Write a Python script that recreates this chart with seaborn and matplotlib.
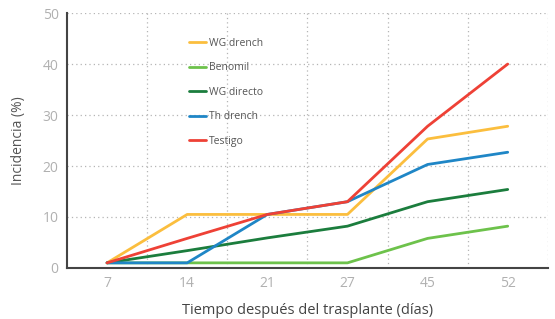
import matplotlib
matplotlib.use("Agg")
import matplotlib.pyplot as plt
import seaborn as sns
import pandas as pd
from matplotlib.ticker import FixedLocator

dias = ["7", "14", "21", "27", "45", "52"]
wg_drench = [1, 10.5, 10.5, 10.5, 25.3, 27.8]
benomil = [1, 1, 1, 1, 5.8, 8.2]
wg_directo = [1, 3.4, 5.9, 8.2, 13, 15.4]
th_drench = [1, 1, 10.5, 13, 20.3, 22.7]
testigo = [1, 5.8, 10.5, 13, 27.8, 40]

series = {"WG drench": wg_drench, "Benomil": benomil, "WG directo": wg_directo,
          "Th drench": th_drench, "Testigo": testigo}
colors = ["#FBBE3E", "#6DC24B", "#1B7D3D", "#1F86C6", "#EE4136"]

rows = []
for name, vals in series.items():
    for d, v in zip(dias, vals):
        rows.append({"dia": d, "serie": name, "valor": v})
df = pd.DataFrame(rows)

sns.set_style("white")
plt.rcParams['font.family'] = ['Open Sans', 'DejaVu Sans']

fig = plt.figure(figsize=(5.55, 3.19), dpi=100)
ax = fig.add_axes([0.1207, 0.160, 0.8663, 0.799])

sns.lineplot(data=df, x="dia", y="valor", hue="serie", palette=colors,
             linewidth=2.0, ax=ax, sort=False)

ax.set_xlim(-0.5, 5.5)
ax.set_ylim(0, 50)
ax.set_yticks([0, 10, 20, 30, 40, 50])
ax.xaxis.set_minor_locator(FixedLocator([0.5, 1.5, 2.5, 3.5, 4.5, 5.5]))
ax.grid(False)
ax.grid(True, which="minor", axis="x", color="#b5b5b5", linestyle=(0, (1, 2.5)), linewidth=0.9)
ax.grid(True, which="major", axis="y", color="#b5b5b5", linestyle=(0, (1, 2.5)), linewidth=0.9)
ax.set_axisbelow(True)

for s in ["top", "right"]:
    ax.spines[s].set_visible(False)
for s in ["left", "bottom"]:
    ax.spines[s].set_color("#444444")
    ax.spines[s].set_linewidth(1.5)

ax.tick_params(axis="both", which="both", length=0, labelsize=10, labelcolor="#b0b0b0")
ax.tick_params(axis="x", pad=6)
ax.tick_params(axis="y", pad=6)

ax.set_xlabel("Tiempo después del trasplante (días)", fontsize=10.5, color="#444444", labelpad=8.5)
ax.set_ylabel("Incidencia (%)", fontsize=10, color="#555555", labelpad=12)

leg = ax.legend(loc="upper left", bbox_to_anchor=(0.235, 0.94), frameon=False,
                handlelength=1.6, handletextpad=0.3, labelspacing=1.3,
                prop={"size": 7.5})
for t in leg.get_texts():
    t.set_color("#555555")

fig.savefig("out.png", dpi=100)
